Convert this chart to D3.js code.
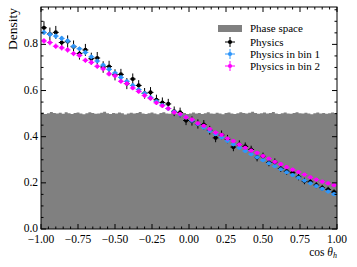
<!DOCTYPE html>
<html>
<head>
<meta charset="utf-8">
<script src="https://cdn.jsdelivr.net/npm/d3@7"></script>
<style>
  body { margin: 0; background: #fff; }
</style>
</head>
<body>
<svg id="chart" width="357" height="267" font-family="'Liberation Serif', 'Times New Roman', serif"></svg>
<script>
// bin centres of the physics histograms (50 bins on [-1, 1])
const binCentres = d3.range(50).map(i => -0.98 + 0.04 * i)
const binHalf = 0.02

// phase space (100 bins)
const phaseEdges = d3.range(101).map(i => -1 + 0.02 * i)
const phaseSpace = [
  0.505, 0.498, 0.502, 0.507, 0.503, 0.500, 0.504, 0.499, 0.506, 0.502,
  0.498, 0.503, 0.505, 0.500, 0.497, 0.502, 0.506, 0.503, 0.499, 0.501,
  0.504, 0.508, 0.502, 0.498, 0.503, 0.500, 0.505, 0.502, 0.496, 0.501,
  0.504, 0.500, 0.503, 0.507, 0.501, 0.498, 0.502, 0.505, 0.500, 0.497,
  0.503, 0.506, 0.501, 0.499, 0.504, 0.500, 0.502, 0.507, 0.503, 0.498,
  0.501, 0.505, 0.500, 0.503, 0.498, 0.502, 0.506, 0.501, 0.499, 0.504,
  0.500, 0.497, 0.503, 0.505, 0.501, 0.498, 0.502, 0.506, 0.503, 0.500,
  0.504, 0.508, 0.503, 0.499, 0.502, 0.505, 0.500, 0.503, 0.507, 0.501,
  0.498, 0.502, 0.505, 0.501, 0.499, 0.503, 0.506, 0.502, 0.500, 0.504,
  0.501, 0.497, 0.502, 0.505, 0.500, 0.503, 0.499, 0.502, 0.505, 0.501
]

const physics = [
  0.872, 0.845, 0.852, 0.808, 0.812, 0.790, 0.760, 0.776, 0.738, 0.741,
  0.702, 0.704, 0.668, 0.670, 0.630, 0.650, 0.622, 0.588, 0.592, 0.560,
  0.548, 0.542, 0.510, 0.505, 0.470, 0.468, 0.455, 0.452, 0.428, 0.395,
  0.408, 0.390, 0.355, 0.366, 0.358, 0.344, 0.310, 0.315, 0.288, 0.290,
  0.262, 0.250, 0.244, 0.225, 0.208, 0.204, 0.190, 0.178, 0.171, 0.160
]
const physicsErr = [
  0.028, 0.028, 0.028, 0.027, 0.027, 0.027, 0.026, 0.026, 0.026, 0.026,
  0.025, 0.025, 0.024, 0.024, 0.024, 0.024, 0.023, 0.023, 0.023, 0.022,
  0.022, 0.022, 0.021, 0.021, 0.020, 0.020, 0.020, 0.020, 0.019, 0.019,
  0.019, 0.018, 0.018, 0.018, 0.017, 0.017, 0.017, 0.016, 0.016, 0.016,
  0.015, 0.015, 0.015, 0.014, 0.014, 0.013, 0.013, 0.013, 0.012, 0.012
]

const physicsBin1 = [
  0.852, 0.843, 0.836, 0.826, 0.815, 0.792, 0.781, 0.765, 0.746, 0.728,
  0.710, 0.692, 0.676, 0.657, 0.640, 0.622, 0.604, 0.588, 0.570, 0.553,
  0.537, 0.522, 0.508, 0.496, 0.484, 0.470, 0.455, 0.440, 0.425, 0.411,
  0.397, 0.382, 0.367, 0.352, 0.338, 0.324, 0.311, 0.298, 0.285, 0.272,
  0.259, 0.246, 0.234, 0.222, 0.210, 0.198, 0.186, 0.174, 0.162, 0.151
]
const physicsBin1Err = [
  0.011, 0.011, 0.011, 0.011, 0.011, 0.010, 0.010, 0.010, 0.010, 0.010,
  0.010, 0.010, 0.009, 0.009, 0.009, 0.009, 0.009, 0.009, 0.009, 0.008,
  0.008, 0.008, 0.008, 0.008, 0.008, 0.008, 0.008, 0.007, 0.007, 0.007,
  0.007, 0.007, 0.007, 0.007, 0.006, 0.006, 0.006, 0.006, 0.006, 0.006,
  0.006, 0.006, 0.005, 0.005, 0.005, 0.005, 0.005, 0.005, 0.005, 0.005
]

const physicsBin2 = [
  0.815, 0.808, 0.792, 0.785, 0.776, 0.760, 0.752, 0.731, 0.722, 0.705,
  0.694, 0.672, 0.664, 0.640, 0.630, 0.611, 0.596, 0.578, 0.566, 0.547,
  0.534, 0.522, 0.505, 0.498, 0.484, 0.474, 0.458, 0.447, 0.433, 0.418,
  0.408, 0.392, 0.381, 0.366, 0.352, 0.340, 0.330, 0.316, 0.305, 0.291,
  0.281, 0.268, 0.257, 0.247, 0.236, 0.224, 0.214, 0.205, 0.198, 0.190
]
const physicsBin2Err = [
  0.012, 0.012, 0.012, 0.012, 0.012, 0.011, 0.011, 0.011, 0.011, 0.011,
  0.011, 0.011, 0.010, 0.010, 0.010, 0.010, 0.010, 0.010, 0.010, 0.009,
  0.009, 0.009, 0.009, 0.009, 0.009, 0.009, 0.008, 0.008, 0.008, 0.008,
  0.008, 0.008, 0.008, 0.008, 0.007, 0.007, 0.007, 0.007, 0.007, 0.007,
  0.007, 0.007, 0.006, 0.006, 0.006, 0.006, 0.006, 0.006, 0.006, 0.006
]

const xTicks = [-1, -0.75, -0.5, -0.25, 0, 0.25, 0.5, 0.75, 1]
const yTicks = [0, 0.2, 0.4, 0.6, 0.8]

const series = [
  {name: "Physics", vals: physics, err: physicsErr, color: "#000000"},
  {name: "Physics in bin 1", vals: physicsBin1, err: physicsBin1Err, color: "#2f96fa"},
  {name: "Physics in bin 2", vals: physicsBin2, err: physicsBin2Err, color: "#ff00ff"}
]

/*************************
 *  scales
*************************/
const svg = d3.select('#chart')
const pLeft = 41, pRight = 337, pTop = 7, pBottom = 229

let x = d3.scaleLinear().domain([-1, 1]).range([pLeft, pRight])
let y = d3.scaleLinear().domain([0, 0.962]).range([pBottom, pTop])

// phase space histogram
let area = d3.area()
    .curve(d3.curveStepAfter)
    .x(d => x(d[0]))
    .y0(y(0))
    .y1(d => y(d[1]))

let phasePts = phaseEdges.map((e, i) => [e, phaseSpace[Math.min(i, phaseSpace.length - 1)]])
svg.append('path')
    .datum(phasePts)
    .attr('d', area)
    .attr('fill', '#808080')

// points with error bars
series.forEach(s => {
    let g = svg.append('g').attr('class', 'series')
    let pts = s.vals.map((v, i) => ({c: binCentres[i], v: v, e: s.err[i]}))
    g.selectAll('.ey').data(pts).join('line')
        .attr('class', 'ey')
        .attr('x1', d => x(d.c)).attr('x2', d => x(d.c))
        .attr('y1', d => y(d.v - d.e)).attr('y2', d => y(d.v + d.e))
        .attr('stroke', s.color).attr('stroke-width', 1)
    g.selectAll('.ex').data(pts).join('line')
        .attr('class', 'ex')
        .attr('x1', d => x(d.c - binHalf)).attr('x2', d => x(d.c + binHalf))
        .attr('y1', d => y(d.v)).attr('y2', d => y(d.v))
        .attr('stroke', s.color).attr('stroke-width', 1)
    g.selectAll('circle').data(pts).join('circle')
        .attr('cx', d => x(d.c)).attr('cy', d => y(d.v))
        .attr('r', 2.1)
        .attr('fill', s.color)
})

/*************************
 *  axes (ticks inward on all four sides)
*************************/
const frame = svg.append('g')
frame.append('rect')
    .attr('x', pLeft).attr('y', pTop)
    .attr('width', pRight - pLeft).attr('height', pBottom - pTop)
    .attr('fill', 'none').attr('stroke', '#000').attr('stroke-width', 1)

let xMinor = d3.range(-1, 1.0001, 0.05).filter(v => !xTicks.some(t => Math.abs(t - v) < 1e-6))
let yMinor = d3.range(0, 0.96, 0.05).filter(v => !yTicks.some(t => Math.abs(t - v) < 1e-6))

function xTickMarks(vals, len) {
    vals.forEach(v => {
        frame.append('line').attr('x1', x(v)).attr('x2', x(v)).attr('y1', pBottom).attr('y2', pBottom - len).attr('stroke', '#000')
        frame.append('line').attr('x1', x(v)).attr('x2', x(v)).attr('y1', pTop).attr('y2', pTop + len).attr('stroke', '#000')
    })
}
function yTickMarks(vals, len) {
    vals.forEach(v => {
        frame.append('line').attr('y1', y(v)).attr('y2', y(v)).attr('x1', pLeft).attr('x2', pLeft + len).attr('stroke', '#000')
        frame.append('line').attr('y1', y(v)).attr('y2', y(v)).attr('x1', pRight).attr('x2', pRight - len).attr('stroke', '#000')
    })
}
xTickMarks(xTicks, 5)
xTickMarks(xMinor, 2.5)
yTickMarks(yTicks, 5)
yTickMarks(yMinor, 2.5)

const fmtX = d3.format('.2f'), fmtY = d3.format('.1f')
frame.selectAll('.xl').data(xTicks).join('text')
    .attr('class', 'xl')
    .attr('x', d => x(d)).attr('y', pBottom + 14)
    .attr('text-anchor', 'middle').attr('font-size', 11.5)
    .text(d => fmtX(d).replace('-', '\u2212'))
frame.selectAll('.yl').data(yTicks).join('text')
    .attr('class', 'yl')
    .attr('x', pLeft - 3).attr('y', d => y(d) + 3)
    .attr('text-anchor', 'end').attr('font-size', 11.5)
    .text(d => fmtY(d))

// axis titles
let xt = svg.append('text').attr('x', pRight).attr('y', 256).attr('text-anchor', 'end').attr('font-size', 11.5)
xt.append('tspan').text('cos ')
xt.append('tspan').attr('font-style', 'italic').text('\u03b8')
xt.append('tspan').attr('font-style', 'italic').attr('font-size', 8).attr('dy', 2).text('h')

svg.append('text')
    .attr('transform', `translate(17, ${pTop + 1}) rotate(-90)`)
    .attr('text-anchor', 'end').attr('font-size', 13.5)
    .text('Density')

/*************************
 *  legend
*************************/
const leg = svg.append('g')
const legX = 230, legText = 250
leg.append('rect').attr('x', legX - 12).attr('y', 25).attr('width', 24).attr('height', 7).attr('fill', '#808080')
leg.append('text').attr('x', legText).attr('y', 32).attr('font-size', 11).text('Phase space')
series.forEach((s, i) => {
    let cy = 42 + i * 12
    leg.append('line').attr('x1', legX - 5).attr('x2', legX + 5).attr('y1', cy).attr('y2', cy).attr('stroke', s.color)
    leg.append('line').attr('x1', legX).attr('x2', legX).attr('y1', cy - 5).attr('y2', cy + 5).attr('stroke', s.color)
    leg.append('circle').attr('cx', legX).attr('cy', cy).attr('r', 2.1).attr('fill', s.color)
    leg.append('text').attr('x', legText).attr('y', cy + 4).attr('font-size', 11).text(s.name)
})
</script>
</body>
</html>
